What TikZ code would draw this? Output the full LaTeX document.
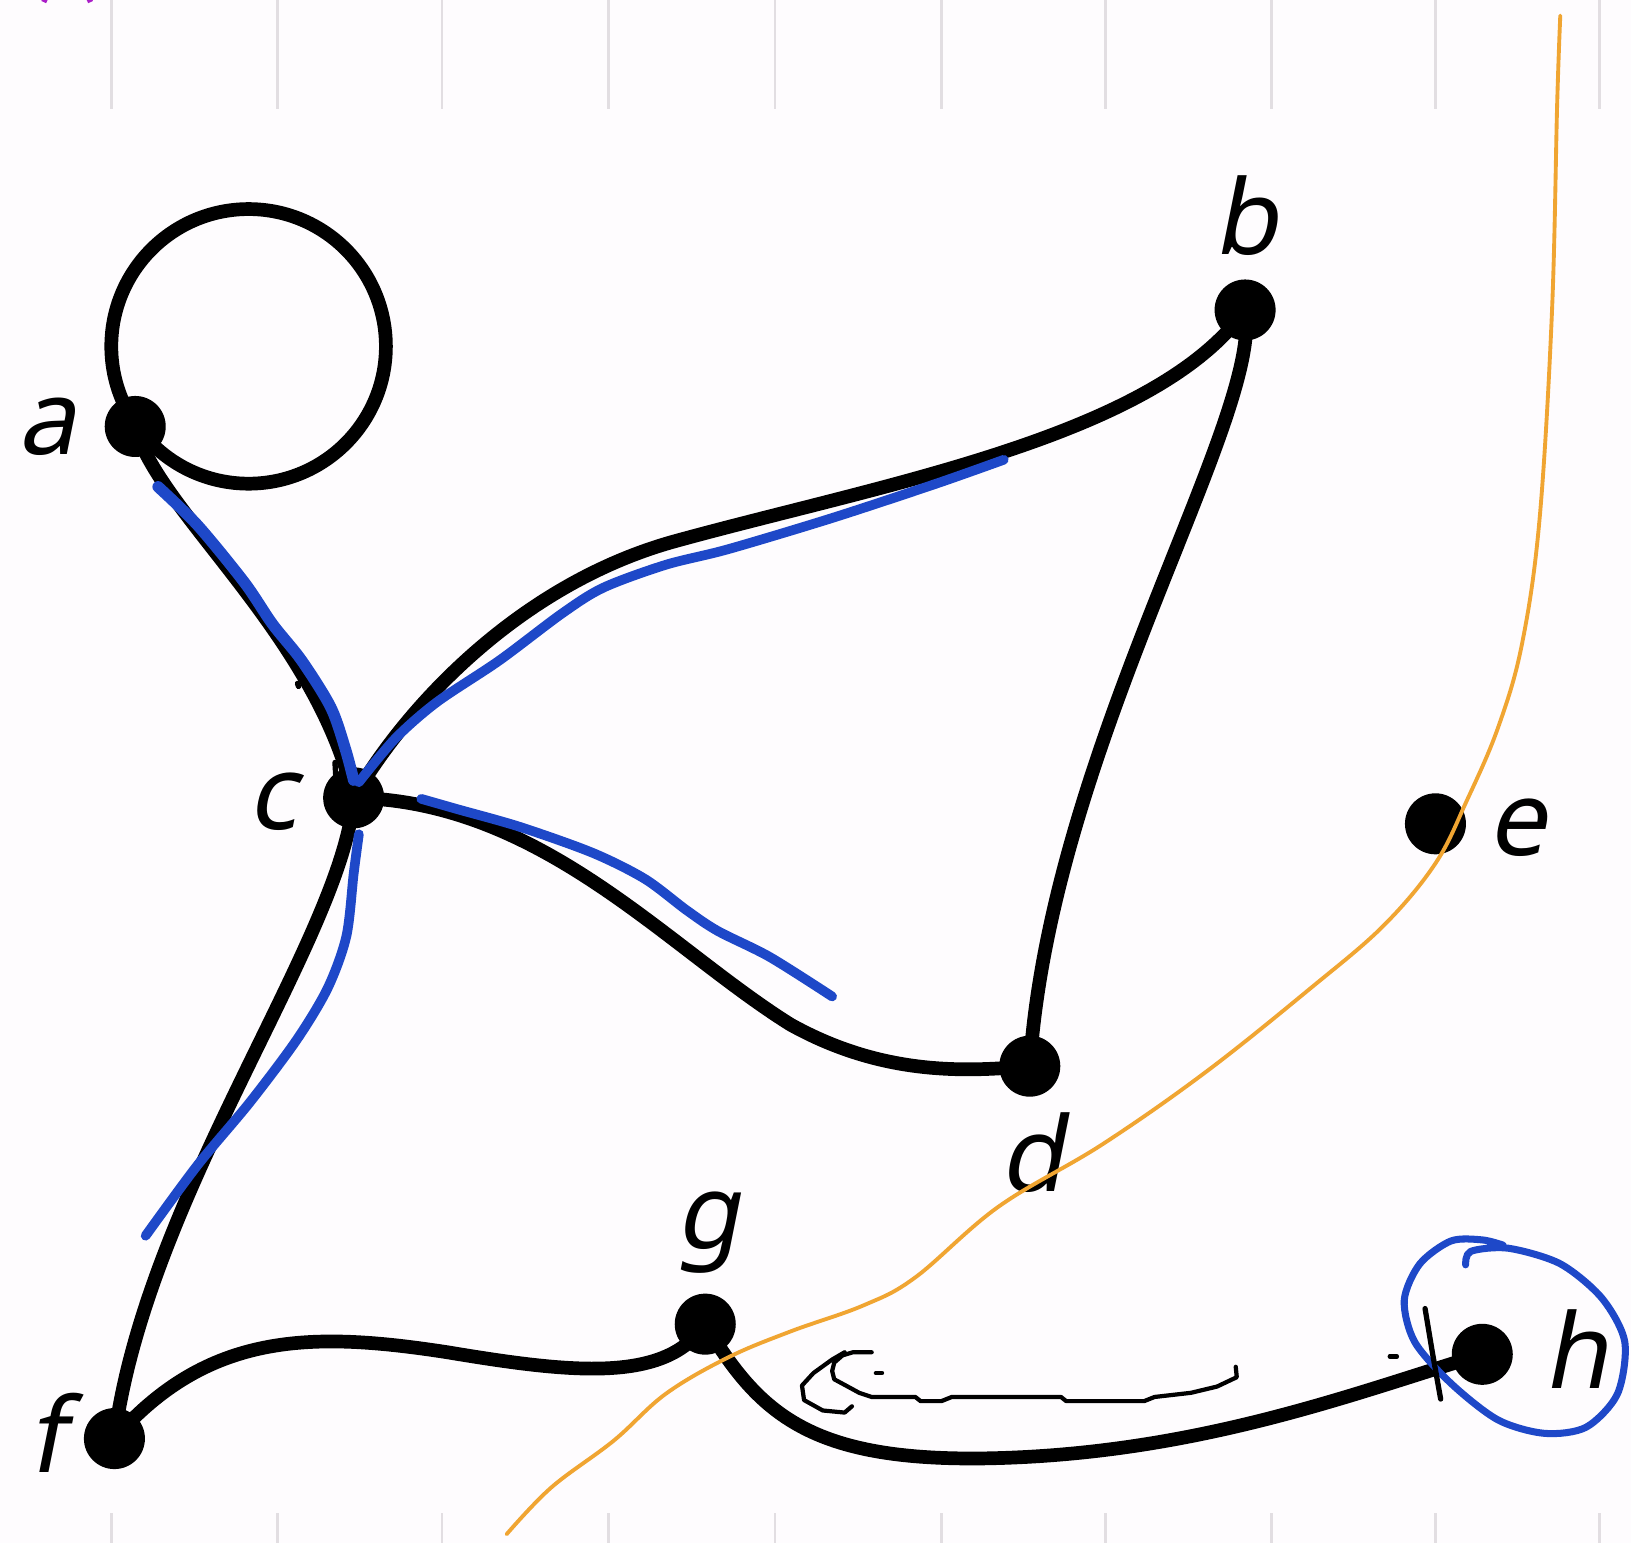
\documentclass[tikz,border=0pt]{standalone}
\usepackage{fontspec}
\newfontfamily\lblfont[FakeSlant=0.2]{Noto Sans}
\definecolor{bgc}{RGB}{254,252,254}
\definecolor{tickc}{RGB}{226,222,226}
\definecolor{myblue}{RGB}{30,72,200}
\definecolor{myorange}{RGB}{240,165,50}
\definecolor{mymag}{RGB}{170,30,200}
\begin{document}
\begin{tikzpicture}[x=0.020804cm,y=-0.020804cm,
  edge/.style={line width=7.8pt,line cap=round},
  dot/.style={circle,fill=black,inner sep=0pt,minimum size=1.22cm},
  lbl/.style={font=\fontsize{59}{66}\lblfont,anchor=base,inner sep=0pt},
  bluestroke/.style={draw=myblue,line width=5.5pt,line cap=round,line join=round},
  tickline/.style={draw=tickc,line width=1.6pt},
  penline/.style={draw=black,line width=2.4pt,line cap=round,line join=round},
  orangeline/.style={draw=myorange,line width=2.2pt,line cap=round}]
\fill[bgc] (0,0) rectangle (1568,1483.4);
\useasboundingbox (0,0) rectangle (1568,1483.4);
% ticks
\foreach \t in {107,267,425,585,745,905,1063,1222,1380,1538}{
  \draw[tickline] (\t,0) -- (\t,105);
  \draw[tickline] (\t,1455) -- (\t,1483.4);
}
% magenta fragment
\draw[draw=mymag,line width=3pt] (42,2) arc[start angle=200,end angle=340,radius=24];
% nodes
\node[dot] (a) at (130,410) {};
\node[dot] (b) at (1197,298) {};
\node[dot] (c) at (340,767) {};
\node[dot] (d) at (990,1025) {};
\node[dot] (e) at (1380,792) {};
\node[dot] (f) at (110,1383) {};
\node[dot] (g) at (678,1273) {};
\node[dot] (h) at (1425,1302) {};
% labels
\node[lbl] (la) at (45,437) {a};
\node[lbl] (lb) at (1197,245) {b};
\node[lbl] (lc) at (262,797) {c};
\node[lbl] (ld) at (992,1145) {d};
\node[lbl] (le) at (1458,822) {e};
\node[lbl] (lf) at (45,1416) {f};
\node[lbl] (lg) at (680,1200) {g};
\node[lbl] (lh) at (1515,1335) {h};
% edges
\draw[edge] (239,333) circle[radius=132];
\draw[edge] (a.center) .. controls (150,490) and (305,610) .. (c.center);
\draw[edge] (c.center) .. controls (390,680) and (500,561) .. (650,520)
                       .. controls (850,465) and (1110,420) .. (b.center);
\draw[edge] (b.center) .. controls (1215,400) and (1010,720) .. (d.center);
\draw[edge] (c.center) .. controls (520,770) and (640,910) .. (760,985)
                       .. controls (850,1035) and (930,1030) .. (d.center);
\draw[edge] (c.center) .. controls (330,900) and (140,1150) .. (f.center);
\draw[edge] (f.center) .. controls (200,1280) and (300,1280) .. (430,1300)
                       .. controls (550,1320) and (640,1330) .. (g.center);
\draw[edge] (g.center) .. controls (730,1360) and (780,1405) .. (950,1402)
                       .. controls (1150,1398) and (1300,1340) .. (h.center);
% orange curve
\draw[orangeline] plot[smooth,tension=0.6] coordinates {(1500,15) (1497,100) (1492,300) (1480,500) (1463,620) (1440,700) (1410,770) (1380,830) (1330,890) (1260,950) (1160,1030) (1060,1100) (960,1160) (880,1228) (830,1255) (760,1280) (700,1305) (640,1340) (590,1385) (530,1430) (487,1475)};
% blue strokes
\draw[bluestroke,line width=6.5pt] plot[smooth] coordinates {(152,468) (190,505) (235,560) (262,600) (290,635) (318,680) (332,720) (340,750)};
\draw[bluestroke] plot[smooth] coordinates {(345,752) (380,710) (420,675) (480,635) (540,590) (580,565) (640,543) (700,528) (800,498) (900,465) (965,442)};
\draw[bluestroke] plot[smooth] coordinates {(405,768) (440,778) (500,795) (570,820) (620,845) (660,875) (690,895) (740,920) (800,958)};
\draw[bluestroke] plot[smooth] coordinates {(345,802) (340,840) (333,900) (315,950) (285,1000) (240,1060) (190,1120) (140,1188)};
\draw[bluestroke,line width=4pt] plot[smooth] coordinates {(1409,1216) (1414,1203) (1450,1200) (1500,1215) (1540,1248) (1562,1290) (1555,1340) (1525,1372) (1485,1378) (1440,1365) (1395,1330) (1360,1290) (1350,1250) (1365,1215) (1395,1193) (1425,1192) (1445,1197)};
% pen marks
\draw[penline] (1188,1314) -- (1189,1324) -- (1170,1333) -- (1145,1339) -- (1110,1343) -- (1100,1347) -- (1025,1347) -- (1020,1343) -- (915,1343) -- (905,1347) -- (885,1347) -- (880,1343) -- (838,1343) -- (826,1339) -- (815,1333) -- (802,1326) -- (800,1318) -- (802,1310) -- (810,1303) -- (820,1300) -- (838,1300);
\draw[penline] (812,1300) -- (800,1307) -- (782,1320) -- (771,1332) -- (773,1346) -- (791,1356) -- (812,1358) -- (819,1352);
\draw[penline] (842,1320) -- (848,1320);
\draw[penline] (1336,1304) -- (1343,1304);
\draw[penline,line width=3pt] (1370,1258) -- (1377,1300) -- (1385,1345);
\draw[penline,line width=3pt] (286,657) -- (287,660);
\draw[penline,line width=3pt] (322,733) -- (323,750);
\end{tikzpicture}
\end{document}
